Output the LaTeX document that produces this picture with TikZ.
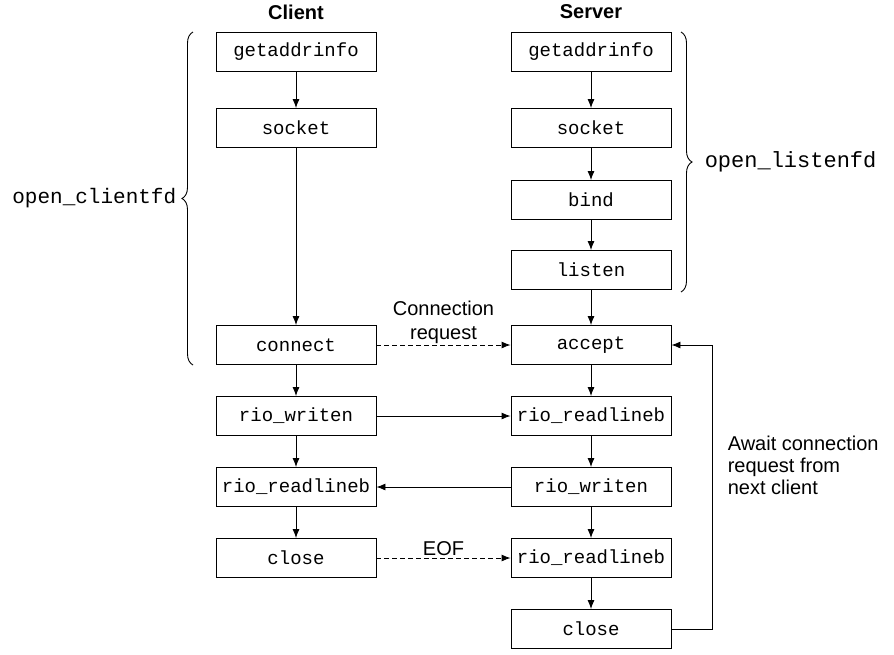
\documentclass[tikz,border=0pt]{standalone}
\usepackage{fontspec}
\setmainfont{Liberation Sans}
\setmonofont{Liberation Mono}
\usetikzlibrary{calc,arrows.meta,decorations.pathreplacing}

\tikzset{
    fn/.style={draw, minimum width=160pt, minimum height=39pt, inner sep=0pt,
        font=\fontsize{19}{19}\selectfont\ttfamily},
    lbl/.style={font=\fontsize{20}{24}\selectfont, align=center},
    bracelbl/.style={font=\fontsize{21}{21}\selectfont\ttfamily},
    msg/.style={->, dash pattern=on 5pt off 3pt},
}

\begin{document}
\begin{tikzpicture}[>={Latex[length=9pt,width=7pt]}, x=1pt, y=-1pt, line width=0.9pt]
    \def\cx{296}
    \def\sx{591}
    \useasboundingbox (0,0) rectangle (894,654);

    \node (client) at (\cx,12) [lbl] {\textbf{Client}};
    \node (server) at (\sx,12) [lbl] {\textbf{Server}};

    % client side
    \node (c1) at (\cx,52) [fn] {getaddrinfo};
    \node (c2) at (\cx,128) [fn] {socket};
    \node (c3) at (\cx,345) [fn] {connect};
    \node (c4) at (\cx,416) [fn] {rio\_writen};
    \node (c5) at (\cx,487) [fn] {rio\_readlineb};
    \node (c6) at (\cx,558) [fn] {close};

    % server side
    \node (s1) at (\sx,52) [fn] {getaddrinfo};
    \node (s2) at (\sx,128) [fn] {socket};
    \node (s3) at (\sx,200) [fn] {bind};
    \node (s4) at (\sx,270) [fn] {listen};
    \node (s5) at (\sx,345) [fn] {accept};
    \node (s6) at (\sx,416) [fn] {rio\_readlineb};
    \node (s7) at (\sx,487) [fn] {rio\_writen};
    \node (s8) at (\sx,558) [fn] {rio\_readlineb};
    \node (s9) at (\sx,629) [fn] {close};

    \foreach \a/\b in {c1/c2, c2/c3, c3/c4, c4/c5, c5/c6,
                       s1/s2, s2/s3, s3/s4, s4/s5, s5/s6, s6/s7, s7/s8, s8/s9}
        \draw[->] (\a) -- (\b);

    \draw[msg] (c3) -- node[lbl, above, inner sep=1pt] {Connection\\request} (s5);
    \draw[->] (c4) -- (s6);
    \draw[->] (s7) -- (c5);
    \draw[msg] (c6) -- node[lbl, above, inner sep=2pt] {EOF} (s8);
    \draw[->] (s9.east) -- ++(41,0) coordinate (loop) |- (s5.east);
    \node (await) at (724,465) [lbl, align=left, anchor=west,
        font=\fontsize{20}{22}\selectfont] {Await connection\\request from\\next client};

    % braces
    \draw[decorate, decoration={brace, amplitude=11pt}] (193,365) -- (193,32)
        coordinate[midway] (cb);
    \node (cfd) at ($(cb)+(-13,0)$) [bracelbl, anchor=east] {open\_clientfd};
    \draw[decorate, decoration={brace, amplitude=11pt}] (681,32) -- (681,292)
        coordinate[midway] (sb);
    \node (sfd) at ($(sb)+(20,0)$) [bracelbl, anchor=west, font=\fontsize{22}{22}\selectfont\ttfamily] {open\_listenfd};
\end{tikzpicture}
\end{document}
